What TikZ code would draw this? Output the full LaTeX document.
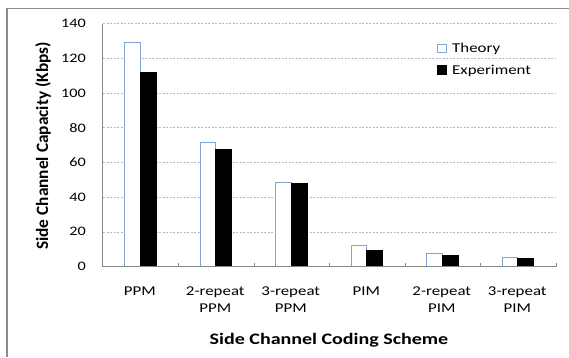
\documentclass[tikz,border=0pt]{standalone}
\usepackage{fontspec}
\setmainfont{Carlito}[FakeStretch=1.25]
\newfontfamily\ylabelfont{Carlito}
\definecolor{theoryblue}{RGB}{130,165,215}
\definecolor{axisgray}{RGB}{134,134,134}
\definecolor{gridgray}{RGB}{185,185,185}
\definecolor{framegray}{RGB}{140,140,140}

\begin{document}
\begin{tikzpicture}[x=1pt,y=1pt,
    frame/.style={framegray,line width=1.6pt},
    grid line/.style={gridgray,line width=0.6pt,dash pattern=on 2pt off 1.5pt},
    axis/.style={axisgray,line width=0.8pt},
    theory/.style={draw=theoryblue,fill=white,line width=0.7pt},
    experiment/.style={draw=black,fill=black,line width=0.7pt},
    ticklabel/.style={anchor=east,inner sep=0pt,font=\fontsize{13}{15}\selectfont},
    catlabel/.style={anchor=base,inner sep=0pt,align=center,font=\fontsize{13.5}{17.3}\selectfont},
    legendlabel/.style={anchor=base west,inner sep=0pt,font=\fontsize{13.5}{16}\selectfont}]
\useasboundingbox (0,0) rectangle (569,357) ;
\draw [frame] (7,0) -- (7,348.5) -- (569,348.5) ;
\begin{scope}[shift={(0,90.5)},y=1.734pt]
    \draw [grid line] (103,20) -- (556,20) ;
    \draw [grid line] (103,40) -- (556,40) ;
    \draw [grid line] (103,60) -- (556,60) ;
    \draw [grid line] (103,80) -- (556,80) ;
    \draw [grid line] (103,100) -- (556,100) ;
    \draw [grid line] (103,120) -- (556,120) ;
    \draw [grid line] (103,140) -- (556,140) ;
    \draw [theory] (124.65,0) rectangle (140.25,129) ;
    \draw [experiment] (140.25,0) rectangle (155.85,111.8) ;
    \draw [theory] (200.15,0) rectangle (215.75,71.7) ;
    \draw [experiment] (215.75,0) rectangle (231.35,67.7) ;
    \draw [theory] (275.65,0) rectangle (291.25,48.4) ;
    \draw [experiment] (291.25,0) rectangle (306.85,48.1) ;
    \draw [theory] (351.15,0) rectangle (366.75,12.3) ;
    \draw [experiment] (366.75,0) rectangle (382.35,9.4) ;
    \draw [theory] (426.65,0) rectangle (442.25,7.7) ;
    \draw [experiment] (442.25,0) rectangle (457.85,6.3) ;
    \draw [theory] (502.15,0) rectangle (517.75,5.2) ;
    \draw [experiment] (517.75,0) rectangle (533.35,4.6) ;
    \draw [axis] (102.5,140) -- (102.5,0) -- (556,0) ;
    \draw [axis] (178.5,0) -- (178.5,2.3) ;
    \draw [axis] (254,0) -- (254,2.3) ;
    \draw [axis] (329.5,0) -- (329.5,2.3) ;
    \draw [axis] (405,0) -- (405,2.3) ;
    \draw [axis] (480.5,0) -- (480.5,2.3) ;
    \draw [axis] (556,0) -- (556,2.3) ;
    \draw (86,0) node [ticklabel] (y0) {0} ;
    \draw (86,20) node [ticklabel] (y20) {20} ;
    \draw (86,40) node [ticklabel] (y40) {40} ;
    \draw (86,60) node [ticklabel] (y60) {60} ;
    \draw (86,80) node [ticklabel] (y80) {80} ;
    \draw (86,100) node [ticklabel] (y100) {100} ;
    \draw (86,120) node [ticklabel] (y120) {120} ;
    \draw (86,140) node [ticklabel] (y140) {140} ;
\end{scope}
\draw (139.75,62) node [catlabel] (ppm) {PPM} ;
\draw (215.25,44.7) node [catlabel] (ppmtwo) {2-repeat\\PPM} ;
\draw (290.75,44.7) node [catlabel] (ppmthree) {3-repeat\\PPM} ;
\draw (366.25,62) node [catlabel] (pim) {PIM} ;
\draw (441.75,44.7) node [catlabel] (pimtwo) {2-repeat\\PIM} ;
\draw (517.25,44.7) node [catlabel] (pimthree) {3-repeat\\PIM} ;
\draw [theory] (437.5,304.5) rectangle (446,313) ;
\draw (452,304.5) node [legendlabel] (lgtheory) {Theory} ;
\draw [experiment] (437.5,283) rectangle (446,291.5) ;
\draw (452,283) node [legendlabel] (lgexp) {Experiment} ;
\draw (329,13) node [anchor=base,inner sep=0pt,font=\fontsize{16}{19}\selectfont\bfseries] (xtitle) {Side Channel Coding Scheme} ;
\draw (43,211) node [rotate=90,inner sep=0pt,font=\ylabelfont\fontsize{17.3}{20}\selectfont\bfseries] (ytitle) {Side Channel Capacity (Kbps)} ;
\end{tikzpicture}
\end{document}
